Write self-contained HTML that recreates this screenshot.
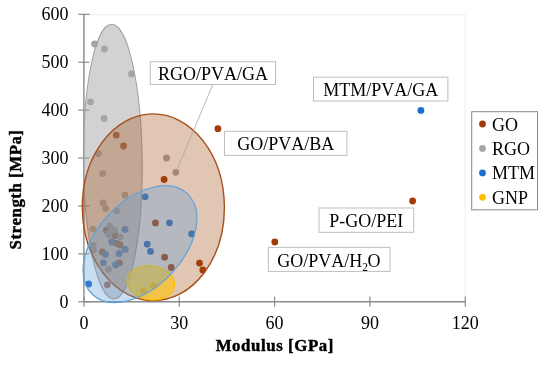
<!DOCTYPE html>
<html><head><meta charset="utf-8"><style>
html,body{margin:0;padding:0;background:#fff;}
svg{display:block;will-change:transform;} text{font-kerning:none;}
</style></head><body>
<svg width="550" height="367" viewBox="0 0 550 367">
<rect width="550" height="367" fill="#fff"/>
<rect x="83.9" y="14.8" width="381.20000000000005" height="287.0" fill="none" stroke="#EFEFEF" stroke-width="1"/><line x1="83.9" y1="14.3" x2="83.9" y2="301.8" stroke="#8C8C8C" stroke-width="1.4"/><line x1="83.9" y1="301.8" x2="465.3" y2="301.8" stroke="#8C8C8C" stroke-width="1.5"/><line x1="78.3" y1="301.80" x2="89.5" y2="301.80" stroke="#8C8C8C" stroke-width="1.2"/><text x="68.5" y="307.60" text-anchor="end" font-size="18" font-family="'Liberation Serif', serif">0</text><line x1="78.3" y1="253.88" x2="89.5" y2="253.88" stroke="#8C8C8C" stroke-width="1.2"/><text x="68.5" y="259.68" text-anchor="end" font-size="18" font-family="'Liberation Serif', serif">100</text><line x1="78.3" y1="205.97" x2="89.5" y2="205.97" stroke="#8C8C8C" stroke-width="1.2"/><text x="68.5" y="211.77" text-anchor="end" font-size="18" font-family="'Liberation Serif', serif">200</text><line x1="78.3" y1="158.05" x2="89.5" y2="158.05" stroke="#8C8C8C" stroke-width="1.2"/><text x="68.5" y="163.85" text-anchor="end" font-size="18" font-family="'Liberation Serif', serif">300</text><line x1="78.3" y1="110.13" x2="89.5" y2="110.13" stroke="#8C8C8C" stroke-width="1.2"/><text x="68.5" y="115.93" text-anchor="end" font-size="18" font-family="'Liberation Serif', serif">400</text><line x1="78.3" y1="62.22" x2="89.5" y2="62.22" stroke="#8C8C8C" stroke-width="1.2"/><text x="68.5" y="68.02" text-anchor="end" font-size="18" font-family="'Liberation Serif', serif">500</text><line x1="78.3" y1="14.30" x2="89.5" y2="14.30" stroke="#8C8C8C" stroke-width="1.2"/><text x="68.5" y="20.10" text-anchor="end" font-size="18" font-family="'Liberation Serif', serif">600</text><line x1="83.90" y1="296.6" x2="83.90" y2="306.8" stroke="#8C8C8C" stroke-width="1.2"/><text x="83.90" y="328.7" text-anchor="middle" font-size="18" font-family="'Liberation Serif', serif">0</text><line x1="179.24" y1="296.6" x2="179.24" y2="306.8" stroke="#8C8C8C" stroke-width="1.2"/><text x="179.24" y="328.7" text-anchor="middle" font-size="18" font-family="'Liberation Serif', serif">30</text><line x1="274.58" y1="296.6" x2="274.58" y2="306.8" stroke="#8C8C8C" stroke-width="1.2"/><text x="274.58" y="328.7" text-anchor="middle" font-size="18" font-family="'Liberation Serif', serif">60</text><line x1="369.92" y1="296.6" x2="369.92" y2="306.8" stroke="#8C8C8C" stroke-width="1.2"/><text x="369.92" y="328.7" text-anchor="middle" font-size="18" font-family="'Liberation Serif', serif">90</text><line x1="465.26" y1="296.6" x2="465.26" y2="306.8" stroke="#8C8C8C" stroke-width="1.2"/><text x="465.26" y="328.7" text-anchor="middle" font-size="18" font-family="'Liberation Serif', serif">120</text><text x="274.8" y="350.8" text-anchor="middle" font-size="16.8" letter-spacing="0.6" stroke="#000" stroke-width="0.45" font-weight="bold" font-family="'Liberation Serif', serif">Modulus [GPa]</text><text transform="translate(21.0,189.8) rotate(-90)" x="0.3" y="0" text-anchor="middle" font-size="16.8" letter-spacing="0.55" stroke="#000" stroke-width="0.45" font-weight="bold" font-family="'Liberation Serif', serif">Strength [MPa]</text><circle cx="116.3" cy="135.2" r="3.4" fill="#A23A0A"/><circle cx="123.5" cy="146" r="3.4" fill="#A23A0A"/><circle cx="217.9" cy="128.7" r="3.4" fill="#A23A0A"/><circle cx="164.1" cy="179.5" r="3.4" fill="#A23A0A"/><circle cx="155.5" cy="222.9" r="3.4" fill="#A23A0A"/><circle cx="106.5" cy="230.2" r="3.4" fill="#A23A0A"/><circle cx="115" cy="235.5" r="3.4" fill="#A23A0A"/><circle cx="116.7" cy="243.3" r="3.4" fill="#A23A0A"/><circle cx="120" cy="245" r="3.4" fill="#A23A0A"/><circle cx="102.3" cy="251.9" r="3.4" fill="#A23A0A"/><circle cx="119.4" cy="262.8" r="3.4" fill="#A23A0A"/><circle cx="164.6" cy="257.2" r="3.4" fill="#A23A0A"/><circle cx="171.2" cy="267.5" r="3.4" fill="#A23A0A"/><circle cx="199.5" cy="263.1" r="3.4" fill="#A23A0A"/><circle cx="202.8" cy="269.9" r="3.4" fill="#A23A0A"/><circle cx="412.6" cy="201" r="3.4" fill="#A23A0A"/><circle cx="274.8" cy="242" r="3.4" fill="#A23A0A"/><circle cx="107.4" cy="284.8" r="3.4" fill="#A23A0A"/><circle cx="94.5" cy="44" r="3.4" fill="#A5A5A5"/><circle cx="104.5" cy="49" r="3.4" fill="#A5A5A5"/><circle cx="131.5" cy="73.9" r="3.4" fill="#A5A5A5"/><circle cx="90.5" cy="101.8" r="3.4" fill="#A5A5A5"/><circle cx="104.1" cy="118.5" r="3.4" fill="#A5A5A5"/><circle cx="98.4" cy="153.4" r="3.4" fill="#A5A5A5"/><circle cx="102.7" cy="173.6" r="3.4" fill="#A5A5A5"/><circle cx="166.5" cy="158" r="3.4" fill="#A5A5A5"/><circle cx="175.8" cy="172.3" r="3.4" fill="#A5A5A5"/><circle cx="125" cy="195.2" r="3.4" fill="#A5A5A5"/><circle cx="103.1" cy="203" r="3.4" fill="#A5A5A5"/><circle cx="105.8" cy="208.7" r="3.4" fill="#A5A5A5"/><circle cx="116.5" cy="211" r="3.4" fill="#A5A5A5"/><circle cx="92.8" cy="229.1" r="3.4" fill="#A5A5A5"/><circle cx="109.6" cy="226.1" r="3.4" fill="#A5A5A5"/><circle cx="114.6" cy="230.2" r="3.4" fill="#A5A5A5"/><circle cx="108.5" cy="233.5" r="3.4" fill="#A5A5A5"/><circle cx="120" cy="236.8" r="3.4" fill="#A5A5A5"/><circle cx="93.3" cy="245.3" r="3.4" fill="#A5A5A5"/><circle cx="93.3" cy="250.3" r="3.4" fill="#A5A5A5"/><circle cx="108.5" cy="269.3" r="3.4" fill="#A5A5A5"/><circle cx="109" cy="235" r="3.4" fill="#A5A5A5"/><circle cx="420.9" cy="110.4" r="3.4" fill="#1C6FCF"/><circle cx="145.2" cy="196.8" r="3.4" fill="#1C6FCF"/><circle cx="125.1" cy="229.5" r="3.4" fill="#1C6FCF"/><circle cx="169.5" cy="222.8" r="3.4" fill="#1C6FCF"/><circle cx="191.6" cy="233.9" r="3.4" fill="#1C6FCF"/><circle cx="147.2" cy="244.2" r="3.4" fill="#1C6FCF"/><circle cx="150.5" cy="251.4" r="3.4" fill="#1C6FCF"/><circle cx="111.8" cy="242" r="3.4" fill="#1C6FCF"/><circle cx="125.2" cy="249.4" r="3.4" fill="#1C6FCF"/><circle cx="105.6" cy="254.4" r="3.4" fill="#1C6FCF"/><circle cx="119.1" cy="253.5" r="3.4" fill="#1C6FCF"/><circle cx="103.4" cy="262.8" r="3.4" fill="#1C6FCF"/><circle cx="115.6" cy="265" r="3.4" fill="#1C6FCF"/><circle cx="88.6" cy="284" r="3.4" fill="#1C6FCF"/><circle cx="143.3" cy="290.6" r="3.4" fill="#FFC000"/><circle cx="153.5" cy="285.6" r="3.4" fill="#FFC000"/><ellipse cx="112.8" cy="161.6" rx="29.36" ry="137.3" transform="rotate(-0.5 112.8 161.6)" fill="#A5A5A5" fill-opacity="0.5" stroke="#A0A0A0" stroke-width="1"/><ellipse cx="153.34" cy="207.3" rx="71.05" ry="93.4" transform="rotate(-0.36 153.34 207.3)" fill="#9E480E" fill-opacity="0.31" stroke="#A84E1C" stroke-width="1.4"/><ellipse cx="150.8" cy="282.81" rx="23.9" ry="17.07" transform="rotate(8.29 150.8 282.81)" fill="#FFC000" fill-opacity="0.6" stroke="#FFC000" stroke-width="1.3"/><ellipse cx="139.98" cy="244.21" rx="69.17" ry="42.99" transform="rotate(-46.70 139.98 244.21)" fill="#5B9BD5" fill-opacity="0.33" stroke="#60A2DA" stroke-width="1.25"/><line x1="212.8" y1="84.5" x2="177" y2="170" stroke="#A6A6A6" stroke-width="0.8"/><rect x="150.3" y="61.8" width="125.19999999999999" height="22.700000000000003" fill="#fff" stroke="#BFBFBF" stroke-width="1"/><text x="212.90" y="79.6" text-anchor="middle" font-size="18" font-family="'Liberation Serif', serif">RGO/PVA/GA</text><rect x="313.5" y="77.2" width="134.39999999999998" height="23.799999999999997" fill="#fff" stroke="#BFBFBF" stroke-width="1"/><text x="380.70" y="95.8" text-anchor="middle" font-size="18" font-family="'Liberation Serif', serif">MTM/PVA/GA</text><rect x="224.5" y="131.3" width="122.39999999999998" height="24.099999999999994" fill="#fff" stroke="#BFBFBF" stroke-width="1"/><text x="285.70" y="150.3" text-anchor="middle" font-size="18" font-family="'Liberation Serif', serif">GO/PVA/BA</text><rect x="319.0" y="208.0" width="94.69999999999999" height="24.30000000000001" fill="#fff" stroke="#BFBFBF" stroke-width="1"/><text x="366.35" y="227.2" text-anchor="middle" font-size="18" font-family="'Liberation Serif', serif">P-GO/PEI</text><rect x="268.4" y="247.4" width="121.60000000000002" height="23.99999999999997" fill="#fff" stroke="#BFBFBF" stroke-width="1"/><text x="277.3" y="266.9" font-size="18" font-family="'Liberation Serif', serif">GO/PVA/H<tspan font-size="11.5" dy="4.0">2</tspan><tspan dy="-4.0" dx="-0.5">O</tspan></text><rect x="471.7" y="111.7" width="65.8" height="98.1" fill="#fff" stroke="#888" stroke-width="1"/><circle cx="482.5" cy="124.00" r="3.4" fill="#A23A0A"/><text x="492" y="130.50" font-size="18" font-family="'Liberation Serif', serif">GO</text><circle cx="482.5" cy="148.45" r="3.4" fill="#A5A5A5"/><text x="492" y="154.95" font-size="18" font-family="'Liberation Serif', serif">RGO</text><circle cx="482.5" cy="172.90" r="3.4" fill="#1C6FCF"/><text x="492" y="179.40" font-size="18" font-family="'Liberation Serif', serif">MTM</text><circle cx="482.5" cy="197.35" r="3.4" fill="#FFC000"/><text x="492" y="203.85" font-size="18" font-family="'Liberation Serif', serif">GNP</text>
</svg>
</body></html>
